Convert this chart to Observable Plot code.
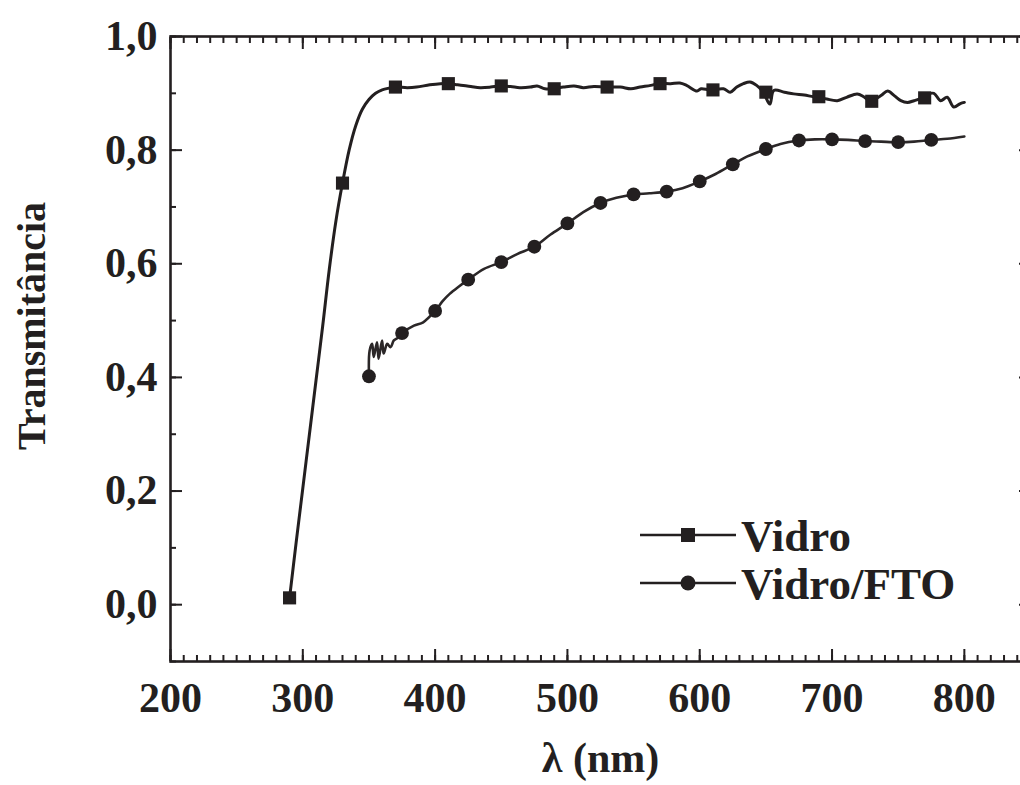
<!DOCTYPE html>
<html>
<head>
<meta charset="utf-8">
<script src="https://cdn.jsdelivr.net/npm/d3@7"></script>
<script src="https://cdn.jsdelivr.net/npm/@observablehq/plot@0.6"></script>
<style>
  html, body { margin: 0; padding: 0; background: #fff; overflow: hidden; }
</style>
</head>
<body>
<div id="chart"></div>
<script>
// ---- data ----
const seriesNames = ["Vidro", "Vidro/FTO"];

// Vidro: full spectrum line
const vidroWl = [290,295,300,305,310,315,320,325,330,335,340,345,350,355,360,365,370,379,386,396,404,409,417,427,434,442,449,457,464,472,477,483,489,497,505,512,520,529,540,548,555,563,569,578,585,590,598,601,608,618,623,628,633,638,643,648,653,656,664,671,679,686,689,696,704,711,719,724,729,737,742,747,752,757,762,768,772,777,782,787,792,797,800];
const vidroT  = [0.012,0.11,0.205,0.30,0.395,0.49,0.59,0.675,0.742,0.80,0.843,0.872,0.889,0.90,0.906,0.909,0.911,0.910,0.911,0.915,0.917,0.917,0.915,0.912,0.910,0.911,0.913,0.912,0.910,0.911,0.913,0.908,0.908,0.911,0.913,0.910,0.912,0.911,0.911,0.908,0.911,0.914,0.917,0.917,0.918,0.914,0.904,0.908,0.906,0.908,0.902,0.911,0.917,0.920,0.914,0.902,0.881,0.905,0.902,0.899,0.897,0.894,0.894,0.890,0.887,0.893,0.899,0.894,0.886,0.896,0.904,0.896,0.887,0.884,0.887,0.892,0.898,0.900,0.887,0.893,0.876,0.882,0.884];
// Vidro: marker positions
const vidroMarkWl = [290,330,370,410,450,490,530,570,610,650,690,730,770];
const vidroMarkT  = [0.012,0.742,0.911,0.917,0.913,0.908,0.911,0.917,0.906,0.902,0.894,0.886,0.892];

// Vidro/FTO: line
const ftoWl = [350,350.5,352.4,353.6,356.1,357.3,359.9,361.1,363.8,366.3,368.8,372,375,384,391,400,406,411,418,425,437,450,462,475,487,500,512,525,537,550,562,575,587,600,612,625,636,650,661,675,687,700,712,725,737,750,762,775,787,800];
const ftoT  = [0.402,0.447,0.459,0.436,0.462,0.433,0.465,0.442,0.459,0.453,0.465,0.470,0.478,0.491,0.497,0.517,0.535,0.547,0.560,0.572,0.591,0.603,0.617,0.630,0.651,0.671,0.691,0.707,0.716,0.722,0.724,0.727,0.733,0.745,0.758,0.775,0.789,0.802,0.811,0.817,0.819,0.819,0.818,0.816,0.815,0.814,0.815,0.818,0.820,0.824];
// Vidro/FTO: markers
const ftoMarkWl = [350,375,400,425,450,475,500,525,550,575,600,625,650,675,700,725,750,775];
const ftoMarkT  = [0.402,0.478,0.517,0.572,0.603,0.630,0.671,0.707,0.722,0.727,0.745,0.775,0.802,0.817,0.819,0.816,0.814,0.818];

// ticks
const xTicks = [200,300,400,500,600,700,800];
const xTickLabels = ["200","300","400","500","600","700","800"];
const xMinor = d3.range(200, 851, 10);
const yTicks = [0,0.2,0.4,0.6,0.8,1.0];
const yTickLabels = ["0,0","0,2","0,4","0,6","0,8","1,0"];
const yMinor = [-0.1,0,0.1,0.2,0.3,0.4,0.5,0.6,0.7,0.8,0.9,1.0];
const xTitle = "λ (nm)";
const yTitle = "Transmitância";

// ---- tables ----
const vidroLine = vidroWl.map((w, i) => ({wl: w, t: vidroT[i]}));
const vidroMarks = vidroMarkWl.map((w, i) => ({wl: w, t: vidroMarkT[i]}));
const ftoLine = ftoWl.map((w, i) => ({wl: w, t: ftoT[i]}));
const ftoMarks = ftoMarkWl.map((w, i) => ({wl: w, t: ftoMarkT[i]}));

const ink = "#231f20";
const font = "'Liberation Serif', 'Times New Roman', serif";
const tickStyle = {stroke: ink, strokeWidth: 2, fill: "none", label: null};
const labelStyle = {fontSize: 42, fontWeight: "bold", fill: ink, tickSize: 0, label: null};

const svg = Plot.plot({
  width: 1030,
  height: 785,
  marginLeft: 170,
  marginRight: 0,
  marginTop: 36,
  marginBottom: 124,
  style: {fontFamily: font, background: "#fff", maxWidth: "none", overflow: "visible"},
  x: {domain: [200, 850], axis: null},
  y: {domain: [-0.1, 1.0], axis: null},
  marks: [
    // inward ticks on all four sides
    Plot.axisX({anchor: "bottom", ticks: xMinor, tickSize: -6, ...tickStyle}),
    Plot.axisX({anchor: "bottom", ticks: xTicks, tickSize: -12, ...tickStyle}),
    Plot.axisX({anchor: "top", ticks: xMinor, tickSize: -6, ...tickStyle}),
    Plot.axisX({anchor: "top", ticks: xTicks, tickSize: -12, ...tickStyle}),
    Plot.axisY({anchor: "left", ticks: yMinor, tickSize: -6, ...tickStyle}),
    Plot.axisY({anchor: "left", ticks: yTicks, tickSize: -12, ...tickStyle}),
    Plot.axisY({anchor: "right", ticks: yMinor, tickSize: -6, ...tickStyle}),
    Plot.axisY({anchor: "right", ticks: yTicks, tickSize: -12, ...tickStyle}),
    // tick labels
    Plot.axisX({anchor: "bottom", ticks: xTicks, tickPadding: 21,
      tickFormat: d => xTickLabels[xTicks.indexOf(d)], ...labelStyle}),
    Plot.axisY({anchor: "left", ticks: yTicks, tickPadding: 13,
      tickFormat: d => yTickLabels[yTicks.indexOf(d)], ...labelStyle}),
    Plot.frame({stroke: ink, strokeWidth: 2.6}),
    // series
    Plot.line(vidroLine, {x: "wl", y: "t", stroke: ink, strokeWidth: 3, curve: "catmull-rom"}),
    Plot.line(ftoLine, {x: "wl", y: "t", stroke: "#2b2728", strokeWidth: 2.6, curve: "catmull-rom"}),
    Plot.dot(vidroMarks, {x: "wl", y: "t", symbol: "square", r: 7.4, fill: ink, stroke: "none"}),
    Plot.dot(ftoMarks, {x: "wl", y: "t", symbol: "circle", r: 6.9, fill: ink, stroke: "none"}),
    // axis titles
    Plot.text([xTitle], {text: d => d, frameAnchor: "bottom", textAnchor: "middle", lineAnchor: "bottom", dy: 110, fontSize: 42, fontWeight: "bold", fill: ink}),
    Plot.text([yTitle], {text: d => d, frameAnchor: "left", textAnchor: "middle", lineAnchor: "middle", rotate: -90, dx: -138, dy: -23, fontSize: 40, fontWeight: "bold", fill: ink})
  ]
});

// ---- legend (drawn with d3 into the same svg) ----
const legend = d3.select(svg).append("g").attr("font-family", font).attr("text-anchor", "start");
const legendSymbols = ["square", "circle"];
seriesNames.forEach((name, i) => {
  const y = 535 + i * 48;
  const g = legend.append("g").attr("transform", `translate(0,${y})`);
  g.append("line").attr("x1", 640).attr("x2", 736).attr("y1", 0).attr("y2", 0)
    .attr("stroke", ink).attr("stroke-width", 2.6);
  if (legendSymbols[i] === "square") {
    g.append("rect").attr("x", 681).attr("y", -7).attr("width", 14).attr("height", 14).attr("fill", ink);
  } else {
    g.append("circle").attr("cx", 688).attr("cy", 0).attr("r", 7.5).attr("fill", ink);
  }
  g.append("text").attr("x", 741).attr("y", 0).attr("dy", "0.35em")
    .attr("font-size", 45).attr("font-weight", "bold").attr("fill", ink).text(name);
});

document.getElementById("chart").appendChild(svg);
</script>
</body>
</html>
